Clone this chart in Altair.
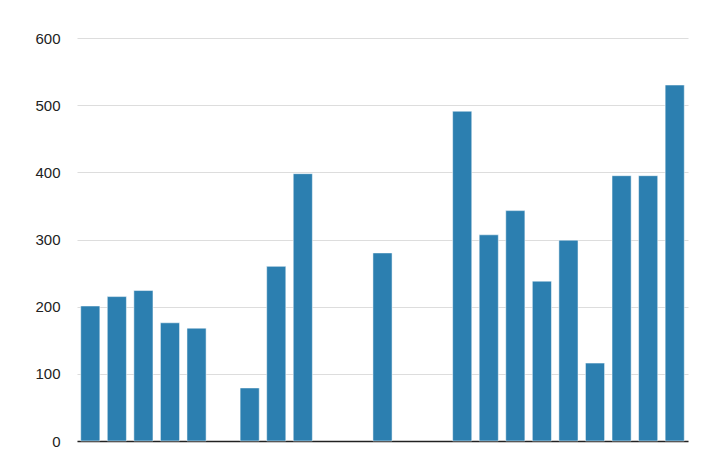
import altair as alt
import pandas as pd

categories = [f"C{i:02d}" for i in range(1, 24)]
values = [201, 215, 224, 176, 168, None, 79, 260, 398, None, None, 280,
          None, None, 491, 307, 343, 238, 299, 116, 395, 395, 530]
y_ticks = [0, 100, 200, 300, 400, 500, 600]

df = pd.DataFrame({"cat": categories, "value": values})

chart = alt.Chart(df).mark_bar(
    color="#2c7fb0", stroke="#ffffff", strokeOpacity=0.5, strokeWidth=1
).encode(
    x=alt.X("cat:N", sort=categories,
            scale=alt.Scale(domain=categories, paddingInner=0.28, paddingOuter=0.14),
            axis=alt.Axis(title=None, labels=False, ticks=False, domain=True,
                          domainColor="#222222", domainWidth=1.5, grid=False)),
    y=alt.Y("value:Q",
            scale=alt.Scale(domain=[0, 600], nice=False),
            axis=alt.Axis(title=None, values=y_ticks, grid=True, gridColor="#dddddd",
                          domain=False, ticks=False, labelPadding=17,
                          labelFontSize=15, labelColor="#222222",
                          labelFont="Liberation Sans")),
).properties(
    width=611, height=403,
    autosize=alt.AutoSizeParams(type="none"),
    padding={"left": 69, "top": 30, "right": 24, "bottom": 20},
).configure_view(stroke=None)

chart.save("out.html", embed_options={"renderer": "svg", "actions": False})
